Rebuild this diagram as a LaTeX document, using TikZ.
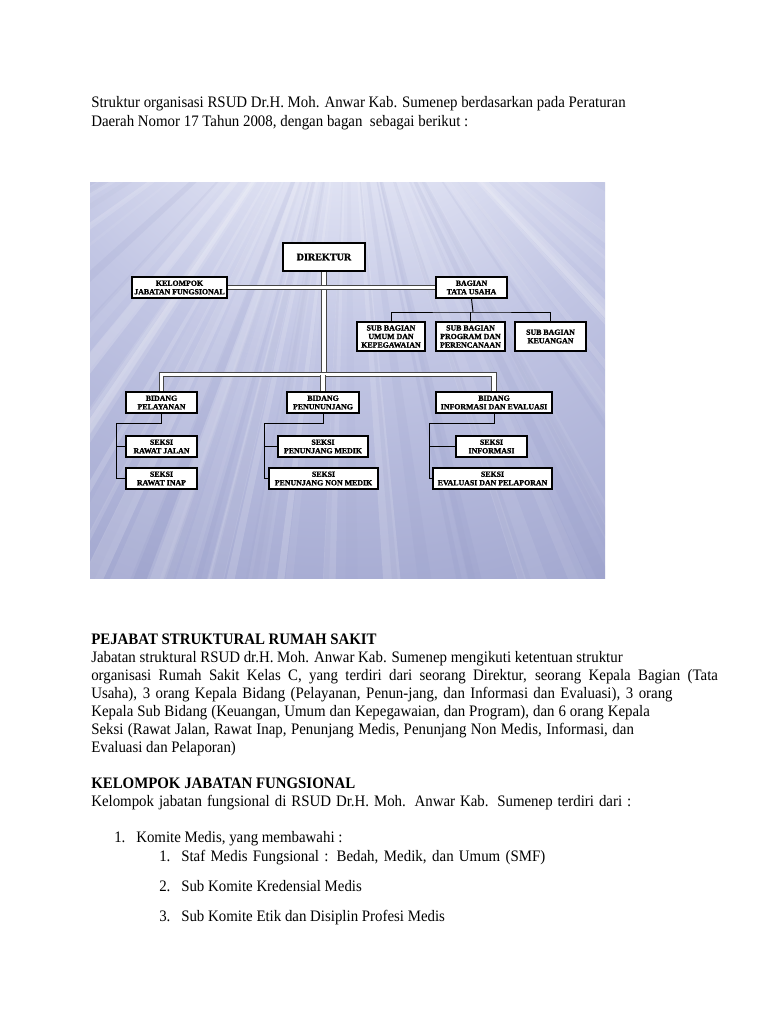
\documentclass[tikz,border=0pt]{standalone}
\usepackage{fontspec}
\setmainfont{Liberation Serif}[FakeStretch=0.93]
\newfontfamily\boxfont{Liberation Serif Bold}[FakeBold=1.3]
\usetikzlibrary{positioning}
\definecolor{bgmid}{RGB}{194,198,228}
\definecolor{bgbot}{RGB}{138,144,192}
\definecolor{bglite}{RGB}{234,236,248}
\pgfdeclareradialshading{glow}{\pgfpoint{0bp}{48bp}}{color(0bp)=(white); color(10bp)=(bglite); color(30bp)=(bgmid); color(72bp)=(bgbot); color(100bp)=(bgbot)}
\newcommand{\spreadline}[2]{\makebox[#1][s]{#2}}
\begin{document}
\begin{tikzpicture}[x=0.75pt,y=-0.75pt,
    box/.style={rectangle,draw,line width=1.3pt,fill=white,inner sep=0pt,align=center,font=\boxfont\fontsize{5.9}{6.4}\selectfont},
    bigbox/.style={box,font=\boxfont\fontsize{7.6}{8}\selectfont},
    mainline/.style={draw=gray!55!black,line width=0.5pt,double=white,double distance=2.8pt},
    subline/.style={draw=black,line width=0.7pt},
    txt/.style={anchor=base west,inner sep=0pt,font=\fontsize{12}{14}\selectfont}]
    \useasboundingbox[fill=white] (0,0) rectangle (768,1024);
    \node[txt] (intro1) at (91,108) {Struktur organisasi RSUD Dr.H. Moh. Anwar Kab. Sumenep berdasarkan pada Peraturan};
    \node[txt] (intro2) at (91,126) {Daerah Nomor 17 Tahun 2008, dengan bagan\ \ sebagai berikut :};
    \shade[shading=glow] (90,182) rectangle (605,578);
    \begin{scope}
        \clip (90,182) rectangle (605,578);
        \pgfmathsetseed{11}
        \foreach \i in {1,...,60}{
            \pgfmathsetmacro{\a}{18+144*rnd}
            \pgfmathsetmacro{\w}{0.2+0.9*rnd}
            \pgfmathsetmacro{\o}{0.04+0.14*rnd}
            \fill[white,opacity=\o,shift={(348,40)}] (0,0) -- (\a-\w:900) -- (\a+\w:900) -- cycle;
        }
        \foreach \i in {1,...,35}{
            \pgfmathsetmacro{\a}{18+144*rnd}
            \pgfmathsetmacro{\w}{0.2+0.7*rnd}
            \pgfmathsetmacro{\o}{0.04+0.1*rnd}
            \fill[bgbot,opacity=\o,shift={(348,40)}] (0,0) -- (\a-\w:900) -- (\a+\w:900) -- cycle;
        }
    \end{scope}
    \node[bigbox,minimum width=61.5pt,minimum height=21pt] (dir) at (324,257) {DIREKTUR};
    \node[box,minimum width=71.25pt,minimum height=15.75pt] (kjf) at (179.5,287.5) {KELOMPOK\\JABATAN FUNGSIONAL};
    \node[box,minimum width=53.25pt,minimum height=15.75pt] (btu) at (471.5,287.5) {BAGIAN\\TATA USAHA};
    \node[box,minimum width=51pt,minimum height=21.75pt] (sbu) at (391,336.5) {SUB BAGIAN\\UMUM DAN\\KEPEGAWAIAN};
    \node[box,minimum width=51.75pt,minimum height=21.75pt] (sbp) at (470.5,336.5) {SUB BAGIAN\\PROGRAM DAN\\PERENCANAAN};
    \node[box,minimum width=53.25pt,minimum height=21.75pt] (sbk) at (550.5,336.5) {SUB BAGIAN\\KEUANGAN};
    \node[box,minimum width=53.25pt,minimum height=15.75pt] (bpl) at (161.5,402.5) {BIDANG\\PELAYANAN};
    \node[box,minimum width=54pt,minimum height=15.75pt] (bpn) at (323,402.5) {BIDANG\\PENUNUNJANG};
    \node[box,minimum width=87pt,minimum height=15.75pt] (bie) at (494,402.5) {BIDANG\\INFORMASI DAN EVALUASI};
    \node[box,minimum width=53.25pt,minimum height=15.75pt] (srj) at (161.5,446.5) {SEKSI\\RAWAT JALAN};
    \node[box,minimum width=53.25pt,minimum height=15.75pt] (sri) at (161.5,478.5) {SEKSI\\RAWAT INAP};
    \node[box,minimum width=67.5pt,minimum height=15.75pt] (spm) at (323,446.5) {SEKSI\\PENUNJANG MEDIK};
    \node[box,minimum width=81.75pt,minimum height=15.75pt] (spn) at (323.5,478.5) {SEKSI\\PENUNJANG NON MEDIK};
    \node[box,minimum width=53.25pt,minimum height=15.75pt] (sin) at (491.5,446.5) {SEKSI\\INFORMASI};
    \node[box,minimum width=89.25pt,minimum height=15.75pt] (sep) at (492.5,478.5) {SEKSI\\EVALUASI DAN PELAPORAN};
    \coordinate (bus) at (324,374.5);
    \draw[mainline] (dir.south) -- (bus);
    \draw[mainline] (kjf.east) -- (btu.west);
    \draw[mainline] (bpl.north) |- (bus) -| (bie.north);
    \draw[mainline] (bpn.north) -- (bpn.north |- bus);
    \coordinate (tuj) at (473,312);
    \draw[subline] (btu.south) -- (tuj);
    \draw[subline] (sbu.north) |- (tuj) -| (sbk.north);
    \draw[subline] (sbp.north) -- (sbp.north |- tuj);
    \coordinate (sp1) at (116,423);
    \coordinate (sp2) at (264,423);
    \coordinate (sp3) at (429,423);
    \draw[subline] (bpl.south) |- (sp1) |- (sri.west);
    \draw[subline] (sp1 |- srj.west) -- (srj.west);
    \draw[subline] (bpn.south) |- (sp2) |- (spn.west);
    \draw[subline] (sp2 |- spm.west) -- (spm.west);
    \draw[subline] (bie.south) |- (sp3) |- (sep.west);
    \draw[subline] (sp3 |- sin.west) -- (sin.west);
    \node[txt,font=\bfseries\fontsize{12}{14}\selectfont] (head1) at (91,644) {PEJABAT STRUKTURAL RUMAH SAKIT};
    \node[txt] (par1) at (91,662) {Jabatan struktural RSUD dr.H. Moh. Anwar Kab. Sumenep mengikuti ketentuan struktur};
    \node[txt] (par2) at (91,680) {\spreadline{470pt}{organisasi Rumah Sakit Kelas C, yang terdiri dari seorang Direktur, seorang Kepala Bagian (Tata}};
    \node[txt] (par3) at (91,698) {\spreadline{436pt}{Usaha), 3 orang Kepala Bidang (Pelayanan, Penun-jang, dan Informasi dan Evaluasi), 3 orang}};
    \node[txt] (par4) at (91,716) {\spreadline{419pt}{Kepala Sub Bidang (Keuangan, Umum dan Kepegawaian, dan Program), dan 6 orang Kepala}};
    \node[txt] (par5) at (91,734) {\spreadline{407pt}{Seksi (Rawat Jalan, Rawat Inap, Penunjang Medis, Penunjang Non Medis, Informasi, dan}};
    \node[txt] (par6) at (91,752) {Evaluasi dan Pelaporan)};
    \node[txt,font=\bfseries\fontsize{12}{14}\selectfont] (head2) at (91,788) {KELOMPOK JABATAN FUNGSIONAL};
    \node[txt] (kjfintro) at (91,806) {\spreadline{405pt}{Kelompok jabatan fungsional di RSUD Dr.H. Moh. Anwar Kab. Sumenep terdiri dari :}};
    \node[txt] (n1) at (114,842) {1.};
    \node[txt] (li1) at (136,842) {Komite Medis, yang membawahi :};
    \node[txt] (n1a) at (159,861) {1.};
    \node[txt] (li1a) at (181,861) {\spreadline{273pt}{Staf Medis Fungsional : Bedah, Medik, dan Umum (SMF)}};
    \node[txt] (n1b) at (159,891) {2.};
    \node[txt] (li1b) at (181,891) {Sub Komite Kredensial Medis};
    \node[txt] (n1c) at (159,921) {3.};
    \node[txt] (li1c) at (181,921) {Sub Komite Etik dan Disiplin Profesi Medis};
\end{tikzpicture}
\end{document}
